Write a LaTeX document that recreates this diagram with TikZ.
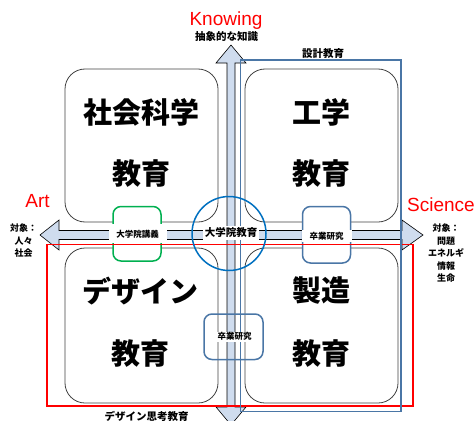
\documentclass[tikz,border=0pt]{standalone}
\usepackage{fontspec}
\setmainfont{Liberation Sans}
\newfontfamily\jp{Noto Sans CJK JP}
\definecolor{arrowfill}{HTML}{CFDCEE}
\definecolor{steel}{HTML}{4A76A6}
\definecolor{circblue}{HTML}{0070C0}
\definecolor{pgreen}{HTML}{00B050}
\tikzset{
  quad/.style={draw=black!75, line width=0.8pt, rounded corners=20pt},
  arrowshape/.style={fill=arrowfill, draw=black, line width=0.6pt},
  redframe/.style={draw=red, line width=1.5pt},
  blueframe/.style={draw=steel, line width=1.5pt},
  smallbox/.style={line width=1.5pt, rounded corners=8pt},
  big/.style={font=\jp\bfseries\fontsize{29}{29}\selectfont, inner sep=0pt},
  lbl/.style={font=\jp\bfseries\fontsize{10.5}{10.5}\selectfont, inner sep=0pt},
  tiny/.style={font=\jp\bfseries\fontsize{8.5}{8.5}\selectfont, fill=white, inner sep=1pt},
  axis/.style={text=red, font=\fontsize{19}{19}\selectfont, inner sep=0pt, anchor=base},
  target/.style={font=\jp\bfseries\fontsize{9}{12.6}\selectfont, align=center, inner sep=0pt, anchor=north}
}
\begin{document}
\begin{tikzpicture}[x=1pt,y=-1pt]
\useasboundingbox (0,0) rectangle (476,420);
% quadrant boxes
\draw[quad] (65,69) rectangle (218,222);
\draw[quad] (245,69) rectangle (398,222);
\draw[quad] (65,248) rectangle (218,403);
\draw[quad] (245,248) rectangle (398,403);
% arrows
\draw[arrowshape] (231,45) -- (246,63) -- (235,63) -- (235,407) -- (246,407) -- (231,425)
  -- (216,407) -- (227,407) -- (227,63) -- (216,63) -- cycle;
\draw[arrowshape] (40,235) -- (59,220) -- (59,230.5) -- (402,230.5) -- (402,220) -- (423,235)
  -- (402,250) -- (402,239.5) -- (59,239.5) -- (59,250) -- cycle;
% small boxes
\draw[smallbox, draw=pgreen, fill=white] (113,206.5) rectangle (161,261);
\draw[smallbox, draw=steel, fill=white] (302.5,206.5) rectangle (350.5,263);
\draw[smallbox, draw=steel] (204,314) rectangle (263,359.5);
% frames
\draw[redframe] (47,244.5) rectangle (413,406);
\draw[blueframe] (240.5,60) rectangle (401,411.5);
% circle
\draw[circblue, line width=1.5pt] (229,233.5) circle (37);
% labels on arrows
\node[tiny, minimum width=58pt, minimum height=19pt] (lecture) at (137.5,233.8) {大学院講義};
\node[tiny, minimum width=50pt, minimum height=12pt] (thesisR) at (326.7,236) {卒業研究};
\node[tiny] (thesisB) at (234.5,336.7) {卒業研究};
\node[lbl, fill=white, inner sep=1.5pt] (grad) at (231,233) {大学院教育};
% big texts
\node[big] (ss1) at (141.5,112.5) {社会科学};
\node[big] (ss2) at (141,173.5) {教育};
\node[big] (en1) at (321.7,112) {工学};
\node[big] (en2) at (321.7,174) {教育};
\node[big] (de1) at (140.5,291.5) {デザイン};
\node[big] (de2) at (140.8,353.5) {教育};
\node[big] (ma1) at (321.7,290.8) {製造};
\node[big] (ma2) at (321.7,354) {教育};
% axis labels
\node[axis] (knowing) at (226,26) {Knowing};
\node[lbl] (abstract) at (226.5,37) {抽象的な知識};
\node[lbl] (sekkei) at (323,53.3) {設計教育};
\node[axis] (art) at (37.5,207) {Art};
\node[axis] (science) at (441,211.7) {Science};
\node[lbl] (dthink) at (146.7,416) {デザイン思考教育};
\node[target] (tleft) at (23.5,223.5) {対象：\\人々\\社会};
\node[target] (tright) at (446,223.5) {対象：\\問題\\エネルギ\\情報\\生命};
\end{tikzpicture}
\end{document}
